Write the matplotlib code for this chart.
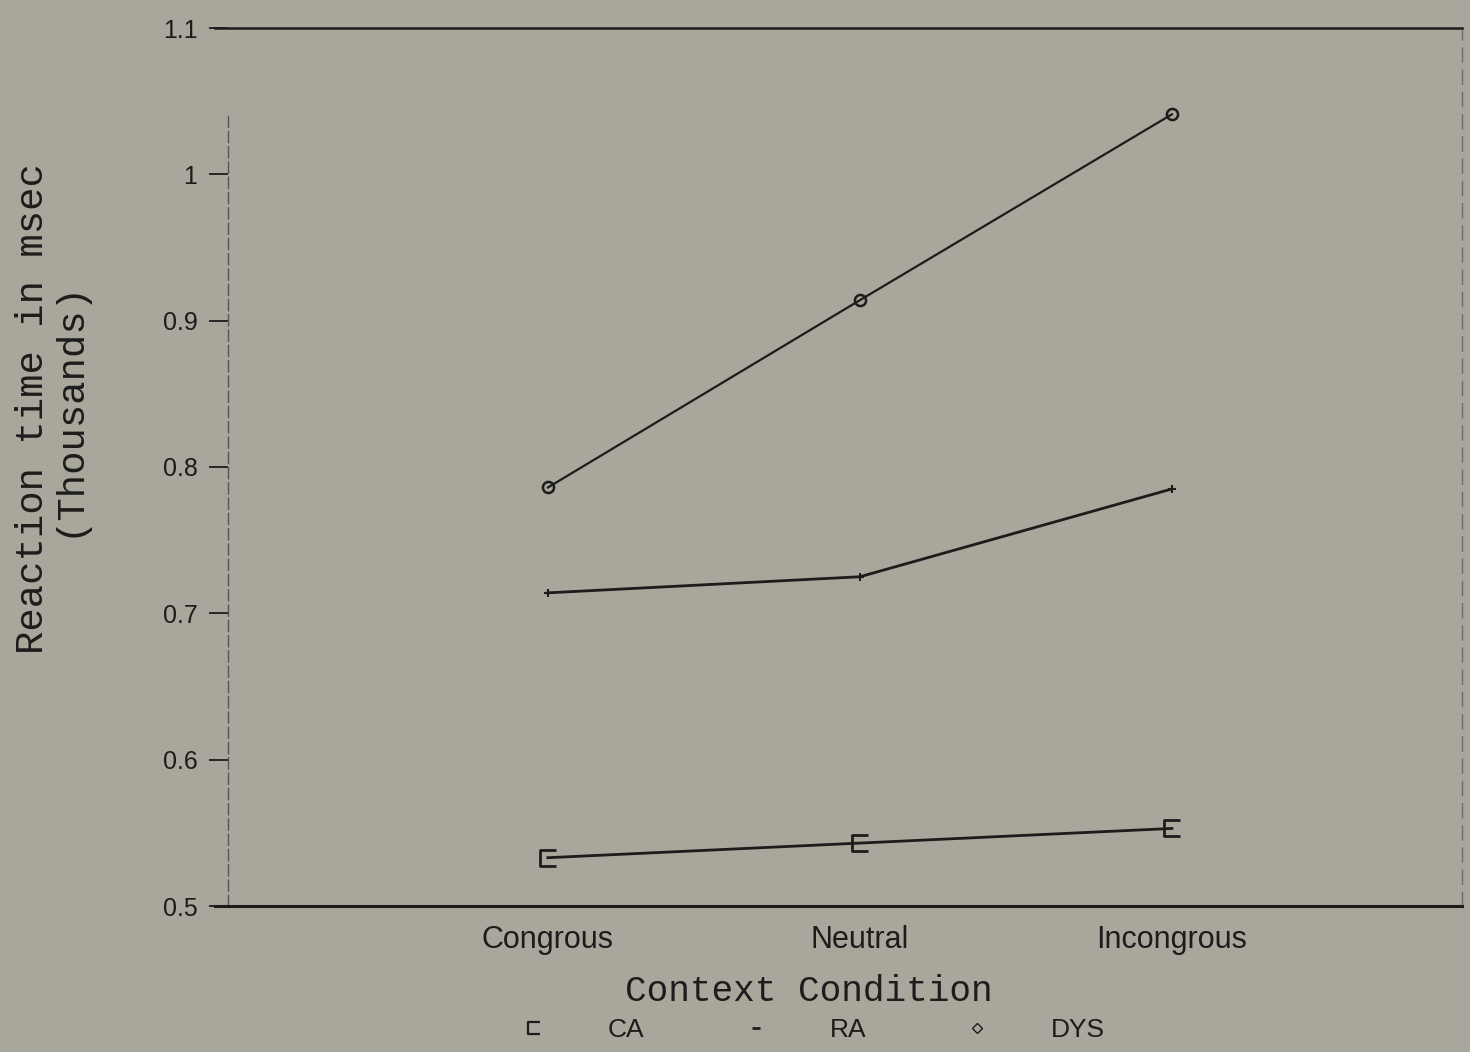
import matplotlib
matplotlib.use("Agg")
import matplotlib.pyplot as plt
from matplotlib.lines import Line2D

categories = ["Congrous", "Neutral", "Incongrous"]
ca = [0.533, 0.543, 0.553]
ra = [0.714, 0.725, 0.785]
dys = [0.786, 0.914, 1.041]
yticks = [0.5, 0.6, 0.7, 0.8, 0.9, 1.0, 1.1]
ytick_labels = ["0.5", "0.6", "0.7", "0.8", "0.9", "1", "1.1"]
series_names = ["CA", "RA", "DYS"]

bg = "#a9a69b"
ink = "#1c1c1c"
sans = ["Liberation Sans Narrow", "Liberation Sans", "DejaVu Sans"]
mono = ["Liberation Mono", "DejaVu Sans Mono"]
bracket = [(1, 1), (-1, 1), (-1, -1), (1, -1)]

fig = plt.figure(figsize=(14.7, 10.52), dpi=100, facecolor=bg)
ax = fig.add_axes([215 / 1470, 1 - 906 / 1052, 1247 / 1470, (906 - 28) / 1052])
ax.set_facecolor(bg)

# spines first (set_position resets ticks)
ax.spines["left"].set_position(("axes", 13 / 1247))
ax.spines["left"].set_color("#555555")
ax.spines["left"].set_linewidth(1.0)
ax.spines["left"].set_linestyle((0, (8, 3)))
ax.spines["right"].set_color("#6a6a6a")
ax.spines["right"].set_linewidth(1.0)
ax.spines["right"].set_linestyle((0, (10, 6)))
for s in ["top", "bottom"]:
    ax.spines[s].set_color(ink)
ax.spines["top"].set_linewidth(1.8)
ax.spines["bottom"].set_linewidth(2.2)

x = [1, 2, 3]
ax.plot(x, ca, color=ink, lw=2.0, marker=bracket, ms=11, mfc="none", mec=ink, mew=2.0)
ax.plot(x, ra, color=ink, lw=2.0, marker="+", ms=6, mec=ink, mew=1.5)
ax.plot(x, dys, color=ink, lw=1.6, marker="o", ms=8, mfc="none", mec=ink, mew=1.8)

ax.set_xlim(-0.067, 3.93)
ax.set_ylim(0.5, 1.1)
ax.spines["left"].set_bounds(0.5, 1.04)
ax.set_xticks(x)
ax.set_xticklabels(categories, fontsize=22, family=sans, color=ink)
ax.tick_params(axis="x", length=0, pad=14)
ax.set_yticks(yticks)
ax.set_yticklabels(ytick_labels, fontsize=18, family=sans, color=ink)
ax.tick_params(axis="y", direction="out", length=14, width=1.3, color=ink, pad=8)

ax.set_xlabel("Context Condition", fontsize=26, family=mono, color=ink)
ax.set_ylabel("Reaction time in msec\n(Thousands)", fontsize=28, family=mono,
              color=ink, linespacing=1.0)
ax.yaxis.set_label_coords(-0.103, 0.567)
ax.xaxis.set_label_coords(0.476, -0.077)

handles = [
    Line2D([], [], ls="none", marker=bracket, ms=8, mfc="none", mec=ink, mew=1.6),
    Line2D([], [], ls="none", marker="_", ms=6, mec=ink, mew=2),
    Line2D([], [], ls="none", marker="D", ms=5, mfc="none", mec=ink, mew=1.0),
]
leg = fig.legend(handles, series_names, loc="center", bbox_to_anchor=(0.553, 1 - 1030 / 1052),
                 ncol=3, frameon=False, prop={"family": sans, "size": 19},
                 handlelength=1.0, handletextpad=2.3, columnspacing=3.7)
for t in leg.get_texts():
    t.set_color(ink)

fig.savefig("out.png", dpi=100, facecolor=bg)
